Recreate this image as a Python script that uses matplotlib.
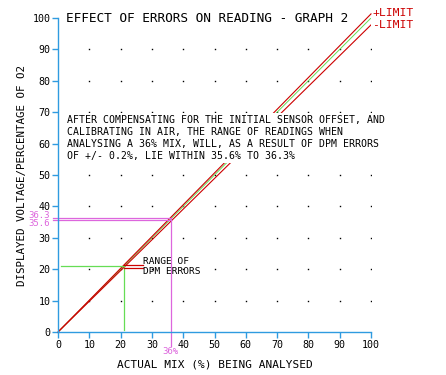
import numpy as np
import matplotlib
matplotlib.use("Agg")
import matplotlib.pyplot as plt

# -------------------------------------------------------------------
# Data
# -------------------------------------------------------------------
mix = [0, 100]
ideal = [0, 100]
plus_limit = [0, 101.3]
minus_limit = [0, 97.8]

target_mix = 36
readings = [36.3, 35.6]
reading_labels = ["36.3", "35.6"]

dpm_point = 21

ticks = list(range(0, 101, 10))
grid_x = list(range(10, 101, 10))
grid_y = list(range(10, 91, 10))

note = ("AFTER COMPENSATING FOR THE INITIAL SENSOR OFFSET, AND\n"
        "CALIBRATING IN AIR, THE RANGE OF READINGS WHEN\n"
        "ANALYSING A 36% MIX, WILL, AS A RESULT OF DPM ERRORS\n"
        "OF +/- 0.2%, LIE WITHIN 35.6% TO 36.3%")

# -------------------------------------------------------------------
# Colours / font
# -------------------------------------------------------------------
AXIS = "#2f9be0"
RED = "#cc0000"
GREEN = "#66dd55"
MAGENTA = "#dd66dd"
plt.rcParams["font.family"] = "DejaVu Sans Mono"

fig = plt.figure(figsize=(4.46, 3.75), dpi=100)
ax = fig.add_axes([58 / 446, 43 / 375, 313 / 446, 314 / 375])
ax.set_xlim(0, 100)
ax.set_ylim(0, 100)

for s in ["top", "right"]:
    ax.spines[s].set_visible(False)
for s in ["left", "bottom"]:
    ax.spines[s].set_color(AXIS)
    ax.spines[s].set_linewidth(1.0)

ax.set_xticks(ticks)
ax.set_yticks(ticks)
ax.tick_params(axis="both", colors=AXIS, length=4, width=1.0, labelsize=7.2,
               labelcolor="black", pad=1.5)

# dotted grid at intersections
gx, gy = np.meshgrid(grid_x, grid_y)
ax.plot(gx.ravel(), gy.ravel(), "s", color="black", ms=1.0, mew=0,
        linestyle="none", antialiased=False)

# limit lines and ideal line
ax.plot(mix, ideal, color=GREEN, lw=0.7)
ax.plot(mix, plus_limit, color=RED, lw=0.8, clip_on=False)
ax.plot(mix, minus_limit, color=RED, lw=0.8)

# 36% reading construction
ax.plot([target_mix, target_mix], [-4.5, readings[0]], color=MAGENTA, lw=0.9, clip_on=False)
for r, lab in zip(readings, reading_labels):
    ax.plot([-1.5, target_mix], [r, r], color=MAGENTA, lw=0.9, clip_on=False)
    ax.text(-2.5, r + (0.8 if r == max(readings) else -0.9), lab, color=MAGENTA,
            fontsize=6.5, ha="right", va="center")
ax.text(target_mix, -6.2, "36%", color=MAGENTA, fontsize=6.5, ha="center", va="center")

# DPM error marker
ax.plot([1, dpm_point], [dpm_point, dpm_point], color=GREEN, lw=0.9)
ax.plot([dpm_point, dpm_point], [0.5, dpm_point], color=GREEN, lw=0.9)
ax.plot([dpm_point, 27], [dpm_point + 0.35, dpm_point + 0.35], color=RED, lw=0.9)
ax.plot([dpm_point, 27], [dpm_point - 0.55, dpm_point - 0.55], color=RED, lw=0.9)
ax.text(27.3, 22.3, "RANGE OF", fontsize=6.8, ha="left", va="center")
ax.text(27.3, 19.4, "DPM ERRORS", fontsize=6.8, ha="left", va="center")

# texts
ax.text(2.6, 100, "EFFECT OF ERRORS ON READING - GRAPH 2", fontsize=9.2,
        ha="left", va="center", clip_on=False)
ax.text(100.4, 101.6, "+LIMIT", color=RED, fontsize=8.2, ha="left", va="center",
        clip_on=False)
ax.text(100.4, 97.7, "-LIMIT", color=RED, fontsize=8.2, ha="left", va="center",
        clip_on=False)
ax.text(3.0, 69.0, note, fontsize=7.1, ha="left", va="top", linespacing=1.25,
        zorder=5, bbox=dict(facecolor="white", edgecolor="none", pad=1.5))

ax.set_xlabel("ACTUAL MIX (%) BEING ANALYSED", fontsize=8, labelpad=7)
ax.set_ylabel("DISPLAYED VOLTAGE/PERCENTAGE OF O2", fontsize=7.8, labelpad=4)

fig.savefig("out.png", dpi=100)
